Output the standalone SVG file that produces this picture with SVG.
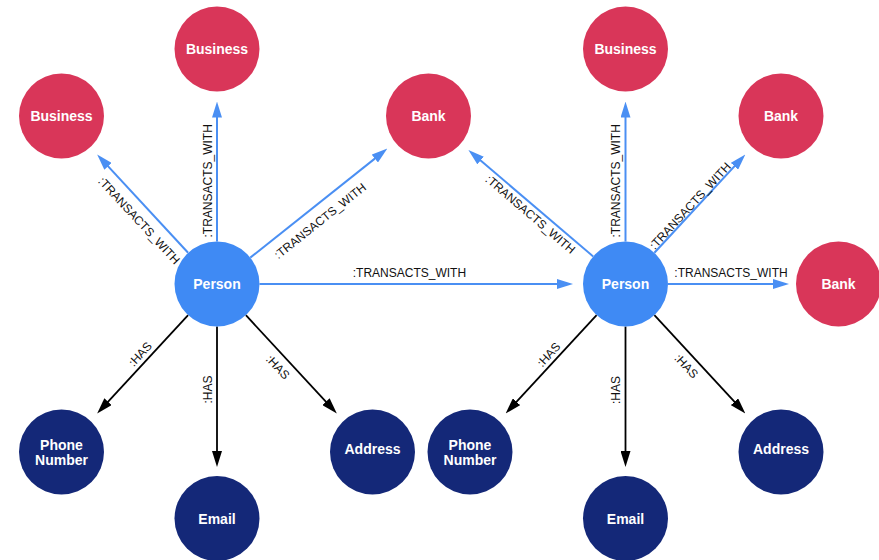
<svg xmlns="http://www.w3.org/2000/svg" width="879" height="560" viewBox="0 0 879 560">
<defs>
<marker id="ab" markerUnits="userSpaceOnUse" markerWidth="16" markerHeight="10" refX="8" refY="5" orient="auto"><path d="M0,0 L16,5 L0,10 z" fill="#4A8FF3"/></marker>
<marker id="ak" markerUnits="userSpaceOnUse" markerWidth="16" markerHeight="10" refX="8" refY="5" orient="auto"><path d="M0,0 L16,5 L0,10 z" fill="#000"/></marker>
</defs>
<style>
.red{fill:#D93659}
.per{fill:#3F8AF4}
.nav{fill:#142878}
.nt{font-family:"Liberation Sans",Arial,sans-serif;font-weight:bold;font-size:14px;fill:#fff;text-anchor:middle}
.tw{stroke:#4A8FF3;stroke-width:2;fill:none;marker-end:url(#ab)}
.hs{stroke:#000;stroke-width:1.8;fill:none;marker-end:url(#ak)}
.el{font-family:"Liberation Sans",Arial,sans-serif;font-size:12px;fill:#111;text-anchor:middle}
</style>
<rect width="879" height="560" fill="#fff"/>
<g id="edges">
<line class="tw" x1="217" y1="241.5" x2="217" y2="109.5"/>
<line class="tw" x1="188.1" y1="252.8" x2="102.6" y2="160.4"/>
<line class="tw" x1="250.3" y1="257.6" x2="381.1" y2="153.6"/>
<line class="tw" x1="259.5" y1="284" x2="565" y2="284"/>
<line class="tw" x1="593.2" y1="256.4" x2="474.5" y2="155.3"/>
<line class="tw" x1="625.5" y1="241.5" x2="625.5" y2="109.5"/>
<line class="tw" x1="654.4" y1="252.8" x2="739.9" y2="160.4"/>
<line class="tw" x1="668" y1="284" x2="781" y2="284"/>
<line class="hs" x1="188.1" y1="315.2" x2="102.6" y2="407.6"/>
<line class="hs" x1="217" y1="326.5" x2="217" y2="459"/>
<line class="hs" x1="245.9" y1="315.2" x2="331.4" y2="407.6"/>
<line class="hs" x1="596.6" y1="315.2" x2="511.1" y2="407.6"/>
<line class="hs" x1="625.5" y1="326.5" x2="625.5" y2="459"/>
<line class="hs" x1="654.4" y1="315.2" x2="739.9" y2="407.6"/>
<text class="el" transform="translate(139.2,220.5) rotate(47.2)" y="4.3">:TRANSACTS_WITH</text>
<text class="el" transform="translate(207.5,180.8) rotate(-90)" y="4.3">:TRANSACTS_WITH</text>
<text class="el" transform="translate(320,220.8) rotate(-38.5)" y="4.3">:TRANSACTS_WITH</text>
<text class="el" transform="translate(409.4,272.5)" y="4.3">:TRANSACTS_WITH</text>
<text class="el" transform="translate(530.5,214.2) rotate(40.5)" y="4.3">:TRANSACTS_WITH</text>
<text class="el" transform="translate(616,180.8) rotate(-90)" y="4.3">:TRANSACTS_WITH</text>
<text class="el" transform="translate(690,205.8) rotate(-47.2)" y="4.3">:TRANSACTS_WITH</text>
<text class="el" transform="translate(731,272.5)" y="4.3">:TRANSACTS_WITH</text>
<text class="el" transform="translate(140,354) rotate(-47.2)" y="4.3">:HAS</text>
<text class="el" transform="translate(207.5,389.5) rotate(-90)" y="4.3">:HAS</text>
<text class="el" transform="translate(278,367) rotate(47.2)" y="4.3">:HAS</text>
<text class="el" transform="translate(548.5,354.5) rotate(-47.2)" y="4.3">:HAS</text>
<text class="el" transform="translate(616,390) rotate(-90)" y="4.3">:HAS</text>
<text class="el" transform="translate(686.5,366) rotate(47.2)" y="4.3">:HAS</text>
</g>
<g id="person1"><circle class="per" cx="217" cy="284" r="42.5"/><text class="nt" x="217" y="289">Person</text></g>
<g id="business1"><circle class="red" cx="217" cy="49" r="42.5"/><text class="nt" x="217" y="54">Business</text></g>
<g id="business2"><circle class="red" cx="61.5" cy="116" r="42.5"/><text class="nt" x="61.5" y="121">Business</text></g>
<g id="bank1"><circle class="red" cx="428.5" cy="116" r="42.5"/><text class="nt" x="428.5" y="121">Bank</text></g>
<g id="phone1"><circle class="nav" cx="61.5" cy="452" r="42.5"/><text class="nt" x="61.5" y="450">Phone</text><text class="nt" x="61.5" y="465">Number</text></g>
<g id="email1"><circle class="nav" cx="217" cy="518.5" r="42.5"/><text class="nt" x="217" y="523.5">Email</text></g>
<g id="address1"><circle class="nav" cx="372.5" cy="452" r="42.5"/><text class="nt" x="372.5" y="453.5">Address</text></g>
<g id="person2"><circle class="per" cx="625.5" cy="284" r="42.5"/><text class="nt" x="625.5" y="289">Person</text></g>
<g id="business3"><circle class="red" cx="625.5" cy="49" r="42.5"/><text class="nt" x="625.5" y="54">Business</text></g>
<g id="bank2"><circle class="red" cx="781" cy="116" r="42.5"/><text class="nt" x="781" y="121">Bank</text></g>
<g id="bank3"><circle class="red" cx="838.5" cy="284" r="42.5"/><text class="nt" x="838.5" y="289">Bank</text></g>
<g id="phone2"><circle class="nav" cx="470" cy="452" r="42.5"/><text class="nt" x="470" y="450">Phone</text><text class="nt" x="470" y="465">Number</text></g>
<g id="email2"><circle class="nav" cx="625.5" cy="518.5" r="42.5"/><text class="nt" x="625.5" y="523.5">Email</text></g>
<g id="address2"><circle class="nav" cx="781" cy="452" r="42.5"/><text class="nt" x="781" y="453.5">Address</text></g>
</svg>
